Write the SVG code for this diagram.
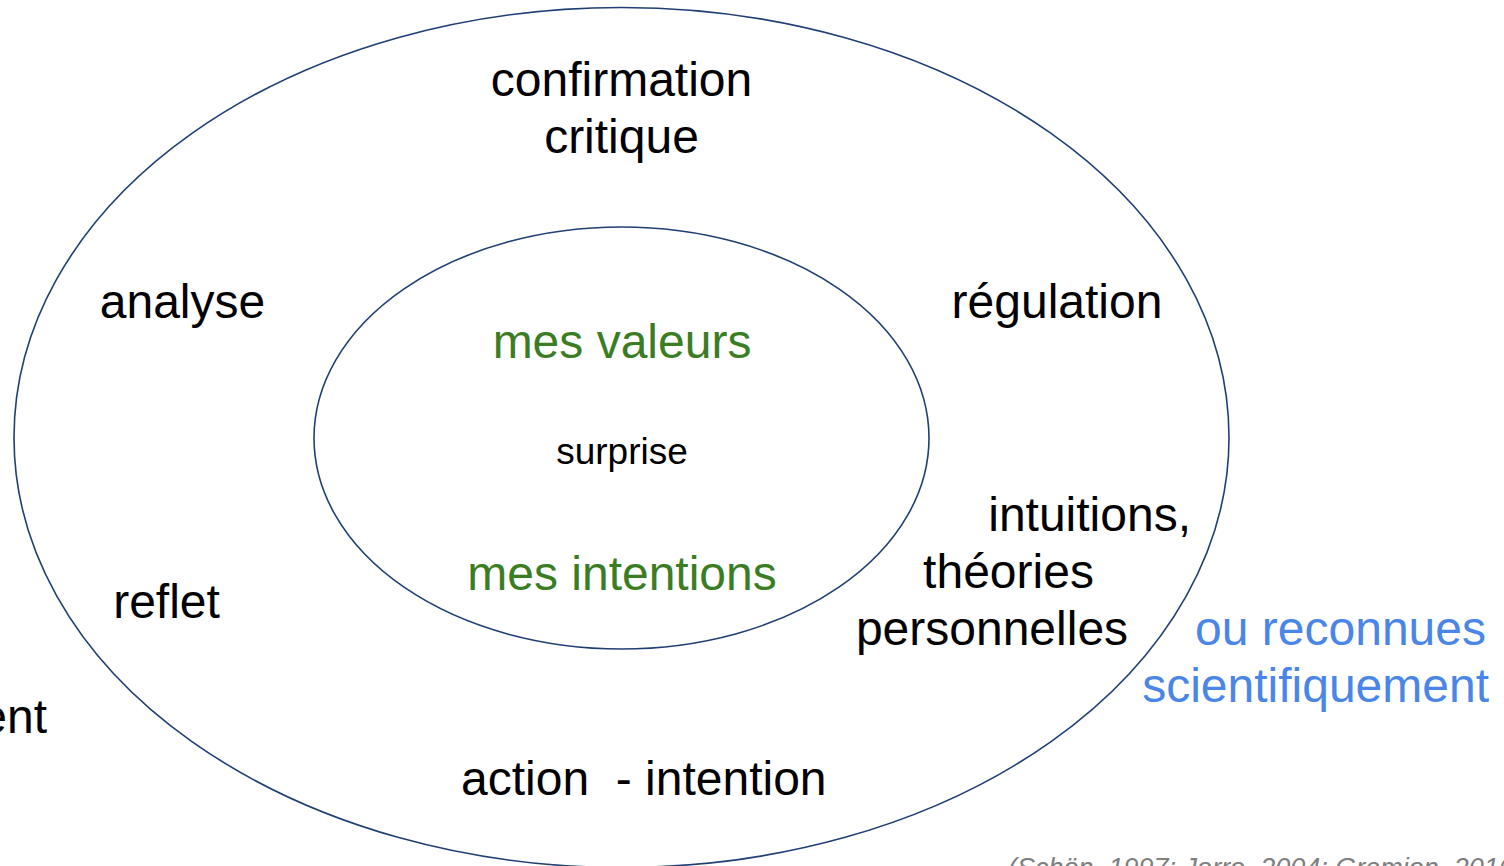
<svg xmlns="http://www.w3.org/2000/svg" width="1504" height="866" viewBox="0 0 1504 866">
<style>
.ring{fill:none;stroke:#203F74;stroke-width:1.6}
text{font-family:"Liberation Sans",Arial,sans-serif}
.lbl{font-size:48px;fill:#000}
.grn{font-size:48px;fill:#3B7D23}
.blu{font-size:48px;fill:#4A86E8}
.sm{font-size:37px;fill:#000}
.cite{font-size:27px;fill:#808080;font-style:italic}
</style>
<rect width="1504" height="866" fill="#fff"/>
<g id="outer">
<ellipse class="ring" cx="621.5" cy="437.5" rx="607.5" ry="430"/>
</g>
<g id="inner">
<ellipse class="ring" cx="621.5" cy="438" rx="307.5" ry="211"/>
</g>
<g id="connectors"></g>
<g id="n-confirmation"><text class="lbl" x="621.5" y="96" text-anchor="middle">confirmation</text><text class="lbl" x="621.5" y="153" text-anchor="middle">critique</text></g>
<g id="n-analyse"><text class="lbl" x="182.5" y="318" text-anchor="middle">analyse</text></g>
<g id="n-regulation"><text class="lbl" x="1057" y="318" text-anchor="middle">régulation</text></g>
<g id="n-valeurs"><text class="grn" x="622" y="358" text-anchor="middle">mes valeurs</text></g>
<g id="n-surprise"><text class="sm" x="622" y="464" text-anchor="middle">surprise</text></g>
<g id="n-intentions"><text class="grn" x="622" y="590" text-anchor="middle">mes intentions</text></g>
<g id="n-intuitions"><text class="lbl" x="1191" y="531" text-anchor="end">intuitions,</text><text class="lbl" x="1008.5" y="588" text-anchor="middle">théories</text><text class="lbl" x="992" y="645" text-anchor="middle">personnelles</text></g>
<g id="n-reflet"><text class="lbl" x="166.5" y="618" text-anchor="middle">reflet</text></g>
<g id="n-ent"><text class="lbl" x="47" y="733" text-anchor="end">ent</text></g>
<g id="n-reconnues"><text class="blu" x="1486" y="645" text-anchor="end">ou reconnues</text><text class="blu" x="1489" y="702" text-anchor="end">scientifiquement</text></g>
<g id="n-action"><text class="lbl" x="461" y="795" xml:space="preserve">action  - intention</text></g>
<g id="n-cite"><text class="cite" x="1008" y="877">(Schön, 1997; Jorro, 2004; Gremion, 2016)</text></g>
</svg>
